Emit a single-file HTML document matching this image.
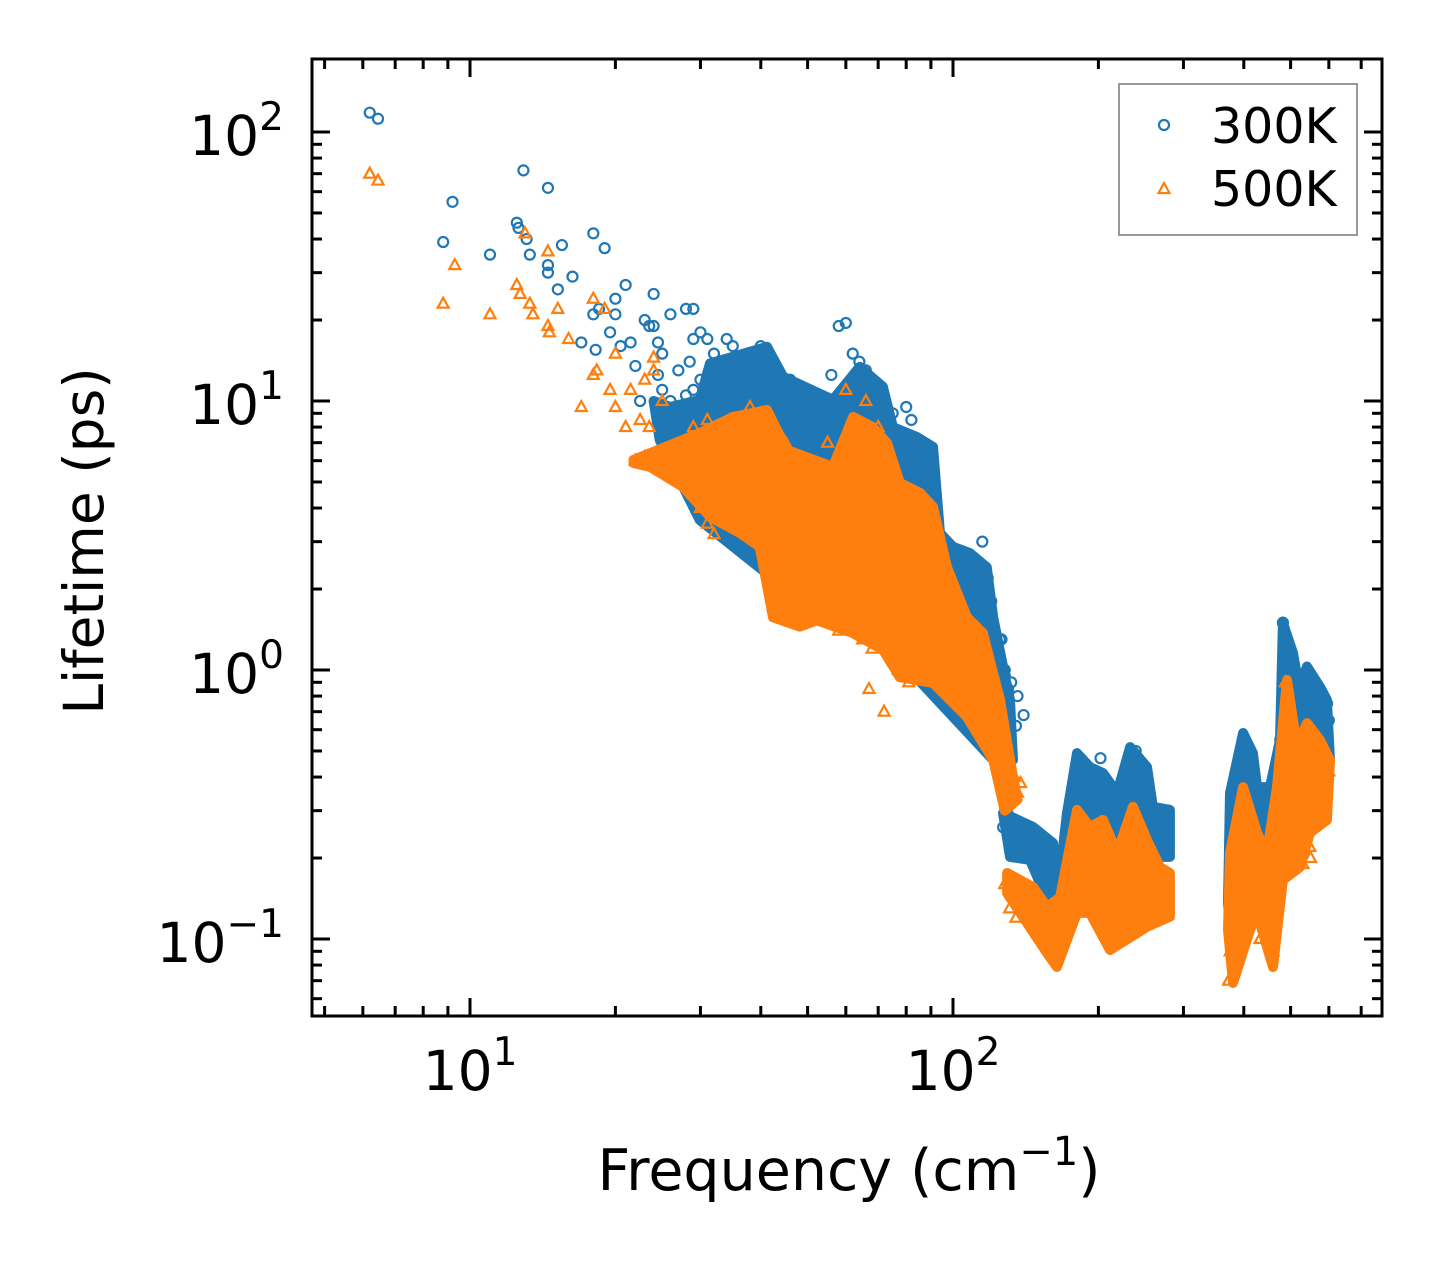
<!DOCTYPE html>
<html><head><meta charset="utf-8"><style>
html,body{margin:0;padding:0;background:#fff;}
svg{display:block;font-family:"DejaVu Sans","Liberation Sans",sans-serif;}
</style></head><body>
<svg id="chart" width="1442" height="1265" viewBox="0 0 1442 1265" xmlns="http://www.w3.org/2000/svg">
<rect width="1442" height="1265" fill="#fff"/>
<g id="marks"></g>
<g id="axes"></g>
</svg>
<script>
const xMajor=[10,100];
const yMajor=[0.1,1,10,100];
const xLabels=["10","10"];const xExp=["1","2"];
const yLabels=["10","10","10","10"];const yExp=["\u22121","0","1","2"];
const band300main=[[31.4,13.8],[41.2,15.9],[44.5,12.3],[56.4,10.1],[64.1,13.4],[71.6,11.3],[75.1,8.0],[84.2,7.35],[90.9,6.75],[94.0,3.23],[100,2.87],[108.4,2.72],[117.5,2.41],[121.1,1.57],[126.9,1.03],[131.2,0.774],[133.1,0.463],[121.1,0.463],[77.6,1.09],[48.2,1.82],[29.9,3.61],[24.7,7.16],[24,10],[26,9.5],[29.9,10.1]];
const band300low=[[126.9,0.294],[146.4,0.261],[161.1,0.2275],[164.1,0.1396],[172.2,0.294],[180.6,0.491],[192.1,0.436],[204.4,0.414],[218.6,0.349],[232.6,0.517],[252.2,0.436],[259.4,0.31],[281.2,0.302],[281.2,0.202],[255.9,0.202],[232.6,0.22],[211.4,0.233],[192.1,0.248],[172.2,0.197],[161.1,0.136],[153.6,0.152],[144.3,0.197],[131.2,0.202]];
const band300high=[[374.6,0.349],[398.6,0.583],[417.8,0.491],[426.1,0.367],[453.3,0.367],[475.3,0.549],[482.0,1.496],[505.8,1.157],[523.0,0.821],[540.7,1.03],[575.1,0.865],[594.4,0.774],[603.4,0.463],[583.4,0.39],[548.3,0.294],[482.0,0.22],[453.3,0.1657],[426.1,0.125],[380.0,0.0787],[371,0.136]];
const band500main=[[21.8,6.04],[29.9,7.6],[35.0,8.72],[41.2,9.26],[45.3,6.58],[56.4,5.69],[62.1,8.72],[68.2,8.0],[73.0,6.98],[77.6,4.96],[85.5,4.55],[90.9,4.04],[97.2,2.41],[106.9,1.57],[115.3,1.37],[125.1,0.774],[133.1,0.40],[136,0.33],[128,0.3],[121.1,0.463],[106.9,0.669],[90.9,0.895],[77.6,0.94],[71.6,1.19],[62.1,1.37],[52.3,1.53],[48.2,1.45],[42.4,1.57],[39.8,2.87],[36.2,3.23],[31.4,3.71],[27.6,4.79],[23.6,5.69],[21.8,5.88]];
const band500low=[[129.4,0.176],[146.4,0.156],[156.5,0.1315],[166.6,0.143],[180.6,0.302],[192.1,0.261],[204.4,0.277],[218.6,0.209],[235.9,0.31],[252.2,0.233],[268.3,0.185],[281.2,0.176],[281.2,0.121],[252.2,0.111],[211.4,0.091],[192.1,0.125],[180.6,0.125],[164.1,0.0787],[156.5,0.0887],[142.3,0.1147],[129.4,0.148]];
const band500high=[[374.6,0.209],[398.6,0.367],[426.1,0.248],[446.8,0.209],[468.6,0.367],[491.4,0.918],[515.5,0.517],[540.7,0.635],[575.1,0.549],[603.4,0.463],[594.4,0.277],[548.3,0.248],[523.0,0.185],[482.0,0.1657],[459.8,0.0787],[446.8,0.0934],[426.1,0.125],[412.1,0.108],[380.0,0.0686],[371,0.108]];
const series300=[[6.2,118],[6.45,112],[8.8,39],[9.2,55],[11,35],[12.5,46],[12.6,44],[12.9,72],[13.1,40],[13.3,35],[14.5,62],[14.5,32],[14.5,30],[15.2,26],[15.5,38],[16.3,29],[17,16.5],[18,42],[18,21],[18.2,15.5],[18.5,22],[19,37],[19.5,18],[20,24],[20,21],[20.5,16],[21,27],[21.5,16.5],[22,13.5],[22.5,10],[23,20],[23.5,19],[24,25],[24,19],[24.5,16.5],[24.5,12.5],[25,11],[25,15],[26,21],[27,13],[28,22],[28.5,14],[29,22],[29,17],[30,12],[30,18],[31,17],[32,15],[33,13],[34,17],[35,16],[36,12],[37,14],[38,15],[40,16],[42,12],[44,11],[46,12],[48,10],[50,9],[52,10],[55,9.5],[56,12.5],[58,19],[60,19.5],[62,15],[64,14],[66,13],[68,12],[70,10],[72,8],[75,9],[78,7],[80,9.5],[82,8.5],[85,6],[88,6.5],[90,5],[92,4.5],[95,3],[100,2.5],[105,2.2],[110,2.5],[115,3],[118,2.2],[120,1.8],[125,1.3],[128,1.0],[132,0.9],[136,0.8],[140,0.68],[135,0.62],
[26,10],[27,9.5],[28,10.5],[29,11],[30,10],[31,11.5],[32,12],[33,11],[33,13],[34,12.5],[35,10],[35,13],[36,11.5],[36,14],[37,12],[37,9],[38,13],[38,10.5],[39,11.5],[39,14],[40,12.5],[40,9.5],[41,10.5],[41,13],[42,8.5],[42,11],[43,9.5],[44,8],[44,10],[45,9],[46,8.5],[47,7.5],[47,9.5],[48,8],[49,7],[50,8.5],[51,7.5],[52,6.5],[53,8],[54,7],[55,6],[56,8],[57,7],[58,6],[59,9],[60,8],[61,10],[62,7],[63,9],[64,11],[65,8],[66,7],[67,10],[68,9],[69,8],[70,6.5],[71,7.5],[72,6],[73,5.5],[74,7],[75,5],[76,6],[77,4.5],[78,5.5],[79,6.5],[80,5],[81,4.5],[82,6],[83,5.5],[84,4.5],[85,5],[86,5.5],[87,4],[88,5],[89,4.5],[90,4],[91,3.5],[92,3],[93,3.5],[94,2.8],[95,2.5],[96,2.2],[98,2.4],[100,2.1],[102,2.3],[104,2],[106,2.2],[108,1.9],[110,2.1],[112,2],[114,1.8],[116,2.2],[118,1.6],[120,1.4],[122,1.2],[124,1.1],[126,1.3],[128,0.95],[130,0.85],
[127,0.26],[130,0.29],[134,0.24],[140,0.26],[142,0.23],[146,0.25],[150,0.23],[154,0.22],[158,0.19],[162,0.17],[166,0.14],[170,0.18],[176,0.3],[180,0.4],[182,0.45],[186,0.33],[192,0.42],[198,0.3],[202,0.47],[208,0.26],[216,0.3],[222,0.33],[228,0.3],[233,0.35],[236,0.42],[239,0.5],[245,0.38],[251,0.3],[257,0.25],[263,0.24],[270,0.26],[276,0.27],[279,0.3],
[374,0.15],[378,0.25],[385,0.33],[395,0.45],[398,0.55],[402,0.5],[408,0.4],[415,0.35],[425,0.32],[440,0.3],[455,0.35],[468,0.4],[476,0.55],[482,1.5],[486,1.3],[490,1.1],[500,0.9],[510,0.8],[520,0.75],[530,0.85],[540,1.0],[545,0.9],[555,0.8],[565,0.75],[580,0.7],[595,0.75],[600,0.65],[380,0.08]];
const series500=[[6.2,70],[6.45,66],[8.8,23],[9.3,32],[11,21],[12.5,27],[12.7,25],[13,42],[13.3,23],[13.5,21],[14.5,36],[14.5,19],[14.6,18],[15.2,22],[16,17],[17,9.5],[18,24],[18,12.5],[18.3,13],[19,22],[19.5,11],[20,9.5],[20,15],[21,8],[21.5,11],[22,6],[22.5,8.5],[23,12],[23.5,8],[24,13],[24,14.5],[25,10],[26,6],[27,5.7],[28,5],[29,4.5],[30,4],[31,3.5],[32,3.2],[33,4],
[22,6],[23,6.2],[24,5.8],[25,6],[26,6.3],[27,6.5],[28,7],[29,8],[30,7],[31,8.5],[32,7.5],[33,8],[35,8],[38,9.5],[40,9],[45,7],[50,6],[55,7],[60,11],[63,7.5],[66,10],[70,8],[36,3.5],[42,2.5],[48,1.8],[53,1.7],[58,1.4],[59,1.5],[62,1.8],[65,1.3],[67,0.85],[68,1.2],[71,1.5],[72,0.7],[74,1.2],[77,1],[79,1.5],[81,0.9],[84,1.3],[86,1.1],[90,1],[94,1.3],[99,1],[106,0.9],[114,0.8],[120,0.75],[124,0.6],[128,0.55],[130,0.45],[134,0.4],[136,0.35],[138,0.38],
[128,0.16],[131,0.13],[135,0.12],[140,0.13],[144,0.12],[150,0.12],[156,0.12],[160,0.095],[164,0.085],[168,0.1],[174,0.16],[180,0.25],[182,0.28],[188,0.15],[195,0.16],[202,0.27],[208,0.13],[213,0.11],[216,0.1],[222,0.15],[230,0.18],[236,0.24],[239,0.28],[245,0.18],[251,0.14],[257,0.15],[263,0.14],[270,0.15],[276,0.14],[279,0.13],
[372,0.07],[375,0.09],[380,0.13],[390,0.2],[398,0.35],[405,0.3],[415,0.2],[426,0.13],[432,0.1],[445,0.14],[460,0.09],[470,0.3],[480,0.5],[488,0.9],[495,0.7],[505,0.5],[515,0.45],[525,0.3],[530,0.19],[540,0.6],[548,0.22],[550,0.2],[560,0.5],[575,0.5],[590,0.4],[600,0.42]];

const L=312,R=1382,T=59,B=1016;
const X10=470,XDEC=483,Y1=670,YDEC=269;
function sx(v){return X10+(Math.log10(v)-1)*XDEC;}
function sy(v){return Y1-Math.log10(v)*YDEC;}
const NS="http://www.w3.org/2000/svg";
function mk(tag,attrs,parent){const e=document.createElementNS(NS,tag);for(const k in attrs)e.setAttribute(k,attrs[k]);parent.appendChild(e);return e;}
const marks=document.getElementById('marks');
const axes=document.getElementById('axes');
const BLUE="#1f77b4",ORANGE="#ff7f0e";
function band(arr,color,name){
 const pts=arr.map(p=>sx(p[0]).toFixed(1)+','+sy(p[1]).toFixed(1)).join(' ');
 const b=mk('polygon',{points:pts,fill:color,stroke:color,'stroke-width':10,'stroke-linejoin':'round'},marks);
 
 
}
band(band300main,BLUE,'cloud-300k-main');
band(band300low,BLUE,'cloud-300k-mid');
band(band300high,BLUE,'cloud-300k-high');
series300.forEach(p=>{const x=sx(p[0]),y=sy(p[1]);if(x<L||x>R||y<T||y>B)return;
 const c=mk('circle',{cx:x,cy:y,r:5,fill:'none',stroke:BLUE,'stroke-width':2.2},marks);
 
 });
band(band500main,ORANGE,'cloud-500k-main');
band(band500low,ORANGE,'cloud-500k-mid');
band(band500high,ORANGE,'cloud-500k-high');
series500.forEach(p=>{const x=sx(p[0]),y=sy(p[1]);if(x<L||x>R||y<T||y>B)return;
 const t=mk('polygon',{points:`${x},${y-6} ${x+5.5},${y+4} ${x-5.5},${y+4}`,fill:'none',stroke:ORANGE,'stroke-width':2.2},marks);
 
 });
function tick(x1,y1,x2,y2){mk('line',{x1,y1,x2,y2,stroke:'#000','stroke-width':3},axes);}
const xmin=Math.pow(10,1-(X10-L)/XDEC),xmax=Math.pow(10,1+(R-X10)/XDEC);
for(let d=1;d<=100;d*=10){for(let m=1;m<10;m++){const v=m*d;if(v<xmin||v>xmax)continue;const x=sx(v);const len=m===1?18:10;tick(x,B,x,B-len);tick(x,T,x,T+len);}}
for(let d=0.01;d<=1000;d*=10){for(let m=1;m<10;m++){const v=m*d;const y=sy(v);if(y<T||y>B)continue;const len=m===1?18:10;tick(L,y,L+len,y);tick(R,y,R-len,y);}}
mk('rect',{x:L,y:T,width:R-L,height:B-T,fill:'none',stroke:'#000','stroke-width':3},axes);
xMajor.forEach((v,i)=>{const t=mk('text',{x:sx(v),y:1090,'text-anchor':'middle','font-size':55},axes);
 
 
 t.innerHTML=xLabels[i]+`<tspan font-size="39" dy="-25">${xExp[i]}</tspan>`;});
yMajor.forEach((v,i)=>{const t=mk('text',{x:284,y:sy(v)+23,'text-anchor':'end','font-size':55},axes);
 
 
 t.innerHTML=yLabels[i]+`<tspan font-size="39" dy="-25">${yExp[i]}</tspan>`;});
const xt=mk('text',{x:849,y:1190,'text-anchor':'middle','font-size':57},axes);


xt.innerHTML='Frequency (cm<tspan font-size="40" dy="-25">\u22121</tspan><tspan dy="25">)</tspan>';
const yt=mk('text',{x:0,y:0,'text-anchor':'middle','font-size':55,transform:'translate(103,541) rotate(-90)'},axes);


yt.textContent='Lifetime (ps)';
const lg=mk('g',{},axes);


mk('rect',{x:1119,y:84,width:238,height:151,fill:'#fff','fill-opacity':0.8,stroke:'#999','stroke-width':2},lg);
mk('circle',{cx:1164,cy:125,r:5,fill:'none',stroke:BLUE,'stroke-width':2.2},lg);
mk('polygon',{points:'1164,183 1169.5,193 1158.5,193',fill:'none',stroke:ORANGE,'stroke-width':2.2},lg);
const l1=mk('text',{x:1211,y:143,'font-size':49},lg);


l1.textContent='300K';
const l2=mk('text',{x:1211,y:206,'font-size':49},lg);


l2.textContent='500K';
</script>
</body></html>
